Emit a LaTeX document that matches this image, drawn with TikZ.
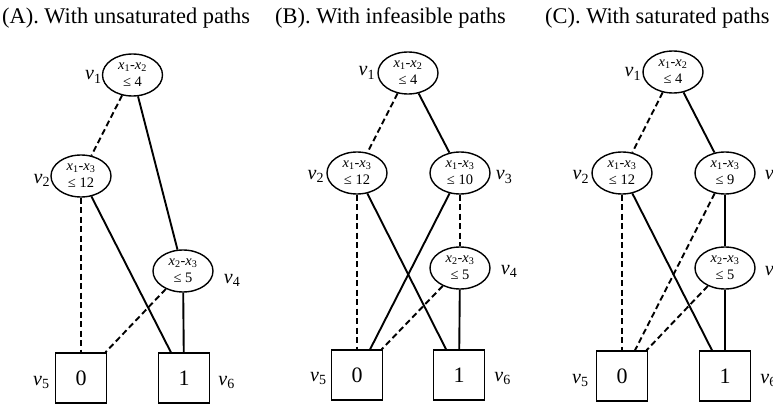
\documentclass[tikz,border=0pt]{standalone}
\usepackage{fontspec}
\setmainfont{Liberation Serif}
\usetikzlibrary{shapes.geometric}
\newcommand{\condtext}[3]{\textit{x}\textsubscript{#1}-\textit{x}\textsubscript{#2}\\≤ #3}
\newcommand{\vlab}[1]{\textit{v}\textsubscript{#1}}
\begin{document}
\begin{tikzpicture}[x=1pt,y=-1pt,
  cond/.style={ellipse,draw,line width=1.4pt,minimum width=60pt,minimum height=42pt,inner sep=0pt,align=center,font=\fontsize{14.5}{17}\selectfont},
  term/.style={rectangle,draw,line width=1.4pt,minimum width=51pt,minimum height=50pt,inner sep=0pt,font=\fontsize{22}{24}\selectfont},
  lab/.style={inner sep=0pt,font=\fontsize{20}{22}\selectfont},
  labL/.style={lab,anchor=base east},
  labR/.style={lab,anchor=base west},
  ttl/.style={anchor=base west,inner sep=0pt,font=\fontsize{22.4}{26}\selectfont},
  hi/.style={line width=1.9pt},
  lo/.style={line width=1.9pt,dash pattern=on 6pt off 3.5pt}]
\useasboundingbox (0,0) rectangle (773,406);

% ---------- titles ----------
\node[ttl] (tA) at (2,24) {(A). With unsaturated paths};
\node[ttl] (tB) at (275,24) {(B). With infeasible paths};
\node[ttl] (tC) at (545,24) {(C). With saturated paths};

% ---------- panel A ----------
\node[cond] (A1) at (132.5,75) {\condtext{1}{2}{4}};
\node[cond] (A2) at (81,176) {\condtext{1}{3}{12}};
\node[cond] (A4) at (183,271) {\condtext{2}{3}{5}};
\node[term] (A5) at (81,378) {0};
\node[term] (A6) at (184,378) {1};
\node[labL] (A1l) at ([xshift=0pt,yshift=-5pt]A1.west) {\vlab{1}};
\node[labL] (A2l) at ([xshift=0pt,yshift=-7pt]A2.west) {\vlab{2}};
\node[labR] (A4l) at ([xshift=10pt,yshift=-12pt]A4.east) {\vlab{4}};
\node[labL] (A5l) at ([xshift=-5pt,yshift=-7pt]A5.west) {\vlab{5}};
\node[labR] (A6l) at ([xshift=8pt,yshift=-7pt]A6.east) {\vlab{6}};
\draw[lo] (A1) -- (A2);
\draw[hi] (A1) -- (A4);
\draw[lo] (A2) -- (A5);
\draw[hi] (A2) -- (A6);
\draw[lo] (A4) -- (A5);
\draw[hi] (A4) -- (A6);

% ---------- panel B ----------
\node[cond] (B1) at (408,73) {\condtext{1}{2}{4}};
\node[cond] (B2) at (357,173) {\condtext{1}{3}{12}};
\node[cond] (B3) at (460,173) {\condtext{1}{3}{10}};
\node[cond] (B4) at (460,268) {\condtext{2}{3}{5}};
\node[term] (B5) at (357,375) {0};
\node[term] (B6) at (459,375) {1};
\node[labL] (B1l) at ([xshift=-2pt,yshift=-3pt]B1.west) {\vlab{1}};
\node[labL] (B2l) at ([xshift=-2pt,yshift=-6pt]B2.west) {\vlab{2}};
\node[labR] (B3l) at ([xshift=5pt,yshift=-7pt]B3.east) {\vlab{3}};
\node[labR] (B4l) at ([xshift=10pt,yshift=-6pt]B4.east) {\vlab{4}};
\node[labL] (B5l) at ([xshift=-4pt,yshift=-6pt]B5.west) {\vlab{5}};
\node[labR] (B6l) at ([xshift=9pt,yshift=-6pt]B6.east) {\vlab{6}};
\draw[lo] (B1) -- (B2);
\draw[hi] (B1) -- (B3);
\draw[lo] (B2) -- (B5);
\draw[hi] (B2) -- (B6);
\draw[hi] (B3) -- (B5);
\draw[lo] (B3) -- (B4);
\draw[lo] (B4) -- (B5);
\draw[hi] (B4) -- (B6);

% ---------- panel C ----------
\node[cond] (C1) at (673,72) {\condtext{1}{2}{4}};
\node[cond] (C2) at (622,173) {\condtext{1}{3}{12}};
\node[cond] (C3) at (725,173) {\condtext{1}{3}{9}};
\node[cond] (C4) at (725,268) {\condtext{2}{3}{5}};
\node[term] (C5) at (622,376) {0};
\node[term] (C6) at (725,376) {1};
\node[labL] (C1l) at ([xshift=-1pt,yshift=-5pt]C1.west) {\vlab{1}};
\node[labL] (C2l) at ([xshift=-2pt,yshift=-7pt]C2.west) {\vlab{2}};
\node[labR] (C3l) at ([xshift=9pt,yshift=-7pt]C3.east) {\vlab{3}};
\node[labR] (C4l) at ([xshift=9pt,yshift=-7pt]C4.east) {\vlab{4}};
\node[labL] (C5l) at ([xshift=-7pt,yshift=-7pt]C5.west) {\vlab{5}};
\node[labR] (C6l) at ([xshift=9pt,yshift=-7pt]C6.east) {\vlab{6}};
\draw[lo] (C1) -- (C2);
\draw[hi] (C1) -- (C3);
\draw[lo] (C2) -- (C5);
\draw[hi] (C2) -- (C6);
\draw[lo] (C3) -- (C5);
\draw[hi] (C3) -- (C4);
\draw[lo] (C4) -- (C5);
\draw[hi] (C4) -- (C6);
\end{tikzpicture}
\end{document}
